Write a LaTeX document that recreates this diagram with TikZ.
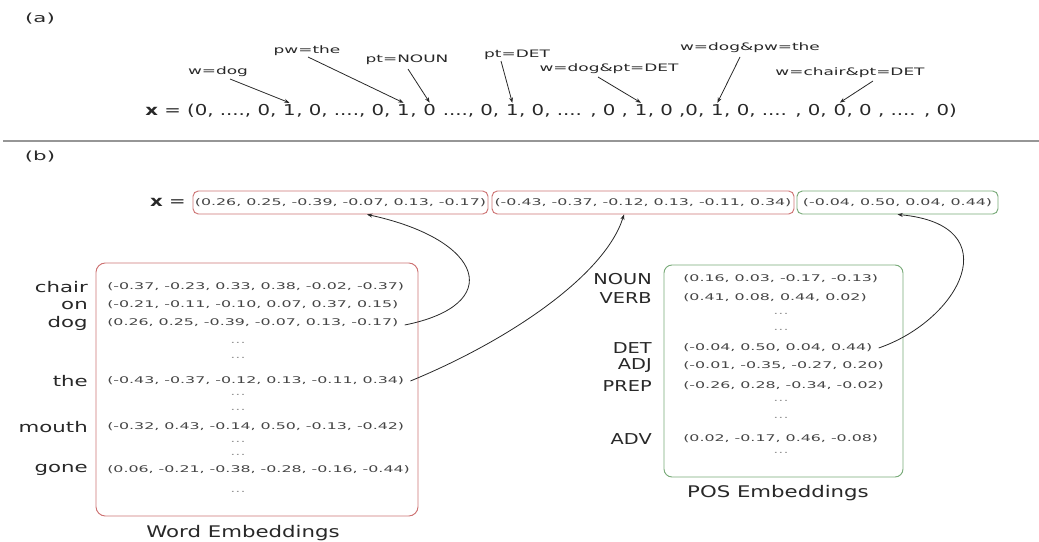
\documentclass[tikz,border=0pt]{standalone}
\usepackage{fontspec}
\usetikzlibrary{calc,arrows.meta}
\newfontfamily\famAB{DejaVu Sans}[FakeStretch=1.7]
\newfontfamily\famLbl{DejaVu Sans}[FakeStretch=1.65]
\newfontfamily\famVec{DejaVu Sans}[FakeStretch=1.316]
\newfontfamily\famVal{DejaVu Sans}[FakeStretch=1.72]
\newfontfamily\famWrd{DejaVu Sans}[FakeStretch=1.45]
\newfontfamily\famPos{DejaVu Sans}[FakeStretch=1.29]
\newfontfamily\famTtl{DejaVu Sans}[FakeStretch=1.33]
\newcommand\fAB{\famAB\fontsize{9.4pt}{9.4pt}\selectfont}
\newcommand\fLbl{\famLbl\fontsize{7.7pt}{7.7pt}\selectfont}
\newcommand\fVec{\famVec\fontsize{11.25pt}{11.25pt}\selectfont}
\newcommand\fVal{\famVal\fontsize{6.9pt}{6.9pt}\selectfont}
\newcommand\fWrd{\famWrd\fontsize{11pt}{11pt}\selectfont}
\newcommand\fPos{\famPos\fontsize{11.25pt}{11.25pt}\selectfont}
\newcommand\fTtl{\famTtl\fontsize{12pt}{12pt}\selectfont}
\definecolor{redb}{RGB}{205,115,115}
\definecolor{greenb}{RGB}{120,170,120}
\definecolor{txt}{RGB}{40,40,40}
\definecolor{valc}{RGB}{70,70,70}
\definecolor{dotc}{RGB}{150,150,150}
\definecolor{rulec}{RGB}{150,150,150}
\tikzset{
  tag/.style={font=\fAB, text=txt, inner sep=0pt},
  lbl/.style={font=\fLbl, text=txt, inner sep=0pt},
  vec/.style={font=\fVec, text=txt, inner sep=0pt, anchor=base west},
  val/.style={font=\fVal, text=valc, inner sep=0pt},
  dotrow/.style={font=\fVal, text=dotc, inner sep=0pt},
  wrdlab/.style={font=\fWrd, text=txt, inner sep=0pt, anchor=east},
  poslab/.style={font=\fPos, text=txt, inner sep=0pt, anchor=east},
  ttl/.style={font=\fTtl, text=txt, inner sep=0pt},
  ptr/.style={draw=txt, line width=0.6pt, -{Stealth[length=4pt,width=3pt]}},
  redbox/.style={draw=redb, line width=0.7pt, rounded corners=4pt, inner sep=0pt},
  greenbox/.style={draw=greenb, line width=0.7pt, rounded corners=4pt, inner sep=0pt},
}
\begin{document}
\begin{tikzpicture}[x=0.75pt,y=-0.75pt]
\useasboundingbox (0,0) rectangle (1039,542);
% ---------- (a) ----------
\node[tag] (ta) at (40,19) {(a)};
\node[vec] (p0) at (145,116) {\textbf{x} = (0, ...., 0,\ \mbox{}};
\node[vec] (t1) at (p0.base east) {1};
\node[vec] (p1) at (t1.base east) {, 0, ...., 0,\ \mbox{}};
\node[vec] (t2) at (p1.base east) {1};
\node[vec] (p2) at (t2.base east) {,\ \mbox{}};
\node[vec] (t3) at (p2.base east) {0};
\node[vec] (p3) at (t3.base east) {\mbox{}\ ...., 0,\ \mbox{}};
\node[vec] (t4) at (p3.base east) {1};
\node[vec] (p4) at (t4.base east) {, 0, .... , 0 ,\ \mbox{}};
\node[vec] (t5) at (p4.base east) {1};
\node[vec] (p5) at (t5.base east) {, 0 ,0,\ \mbox{}};
\node[vec] (t6) at (p5.base east) {1};
\node[vec] (p6) at (t6.base east) {, 0, .... , 0,\ \mbox{}};
\node[vec] (t7) at (p6.base east) {0};
\node[vec] (p7) at (t7.base east) {, 0 , .... , 0)};

\node[lbl] (l1) at (218,72) {w=dog};
\node[lbl] (l2) at (307,51) {pw=the};
\node[lbl] (l3) at (407,60) {pt=NOUN};
\node[lbl] (l4) at (517,55) {pt=DET};
\node[lbl] (l5) at (609,69) {w=dog\&pt=DET};
\node[lbl] (l6) at (750,48) {w=dog\&pw=the};
\node[lbl] (l7) at (850,73) {w=chair\&pt=DET};

\draw[ptr] ($(l1)+(12,7)$) -- ($(t1.north)+(0,-2)$);
\draw[ptr] ($(l2)+(1,6)$) -- ($(t2.north)+(0,-2)$);
\draw[ptr] ($(l3)+(1,9)$) -- ($(t3.north)+(0,-2)$);
\draw[ptr] ($(l4)+(-16,6)$) -- ($(t4.north)+(0,-2)$);
\draw[ptr] ($(l5)+(-11,8)$) -- ($(t5.north)+(0,-2)$);
\draw[ptr] ($(l6)+(-10,9)$) -- ($(t6.north)+(0,-2)$);
\draw[ptr] ($(l7)+(23,8)$) -- ($(t7.north)+(0,-2)$);

% ---------- rule ----------
\coordinate (r0) at (3,141);
\coordinate (r1) at (1039,141);
\draw[rulec, line width=1.5pt] (r0) -- (r1);

% ---------- (b) ----------
\node[tag] (tb) at (40,157) {(b)};
\node[font=\fVec, text=txt, inner sep=0pt] (xeq) at (168,202) {\textbf{x} =};
\node[redbox, minimum width=295*0.75pt, minimum height=23*0.75pt, font=\fVal, text=valc] (b1) at (340.5,202.5) {(0.26, 0.25, -0.39, -0.07, 0.13, -0.17)};
\node[redbox, minimum width=302*0.75pt, minimum height=23*0.75pt, font=\fVal, text=valc] (b2) at (643,202.5) {(-0.43, -0.37, -0.12, 0.13, -0.11, 0.34)};
\node[greenbox, minimum width=201*0.75pt, minimum height=23*0.75pt, font=\fVal, text=valc] (b3) at (897.5,202.5) {(-0.04, 0.50, 0.04, 0.44)};

% word embeddings
\node[redbox, rounded corners=7pt, minimum width=322*0.75pt, minimum height=253*0.75pt] (wbox) at (257,389.5) {};
\node[wrdlab] (wl1) at (88,287) {chair};
\node[wrdlab] (wl2) at (88,305) {on};
\node[wrdlab] (wl3) at (88,323) {dog};
\node[wrdlab] (wl4) at (88,381) {the};
\node[wrdlab] (wl5) at (88,427) {mouth};
\node[wrdlab] (wl6) at (88,470) {gone};
\node[val, anchor=west] (wv1) at (107,287) {(-0.37, -0.23, 0.33, 0.38, -0.02, -0.37)};
\node[val, anchor=west] (wv2) at (107,305) {(-0.21, -0.11, -0.10, 0.07, 0.37, 0.15)};
\node[val, anchor=west] (wv3) at (107,323) {(0.26, 0.25, -0.39, -0.07, 0.13, -0.17)};
\node[dotrow] (wd1) at (238,343) {...};
\node[dotrow] (wd2) at (238,358) {...};
\node[val, anchor=west] (wv4) at (107,381) {(-0.43, -0.37, -0.12, 0.13, -0.11, 0.34)};
\node[dotrow] (wd3) at (238,395) {...};
\node[dotrow] (wd4) at (238,410) {...};
\node[val, anchor=west] (wv5) at (107,427) {(-0.32, 0.43, -0.14, 0.50, -0.13, -0.42)};
\node[dotrow] (wd5) at (238,442) {...};
\node[dotrow] (wd6) at (238,455) {...};
\node[val, anchor=west] (wv6) at (107,470) {(0.06, -0.21, -0.38, -0.28, -0.16, -0.44)};
\node[dotrow] (wd7) at (238,492) {...};
\node[ttl] (wt) at (243,533) {Word Embeddings};

% POS embeddings
\node[greenbox, rounded corners=6pt, minimum width=239*0.75pt, minimum height=212*0.75pt] (pbox) at (783.5,371) {};
\node[poslab] (pl1) at (652,279) {NOUN};
\node[poslab] (pl2) at (652,298) {VERB};
\node[poslab] (pl3) at (652,348) {DET};
\node[poslab] (pl4) at (652,366) {ADJ};
\node[poslab] (pl5) at (652,386) {PREP};
\node[poslab] (pl6) at (652,439) {ADV};
\node[val, anchor=west] (pv1) at (683,279) {(0.16, 0.03, -0.17, -0.13)};
\node[val, anchor=west] (pv2) at (683,298) {(0.41, 0.08, 0.44, 0.02)};
\node[dotrow] (pd1) at (781,314) {...};
\node[dotrow] (pd2) at (781,330) {...};
\node[val, anchor=west] (pv3) at (683,348) {(-0.04, 0.50, 0.04, 0.44)};
\node[val, anchor=west] (pv4) at (683,366) {(-0.01, -0.35, -0.27, 0.20)};
\node[val, anchor=west] (pv5) at (683,386) {(-0.26, 0.28, -0.34, -0.02)};
\node[dotrow] (pd3) at (781,401) {...};
\node[dotrow] (pd4) at (781,418) {...};
\node[val, anchor=west] (pv6) at (683,439) {(0.02, -0.17, 0.46, -0.08)};
\node[dotrow] (pd5) at (781,453) {...};
\node[ttl] (pt) at (778,493) {POS Embeddings};

% connectors
\draw[ptr] ($(wv3.east)+(6,2)$) .. controls (505,305) and (485,240) .. ($(b1.south)+(26.5,0)$);
\draw[ptr] ($(wv4.east)+(6,0)$) .. controls (510,340) and (605,275) .. ($(b2.south)+(-19,0)$);
\draw[ptr] ($(pv3.east)+(6,0)$) .. controls (960,320) and (1010,225) .. (b3.south);
\end{tikzpicture}
\end{document}
